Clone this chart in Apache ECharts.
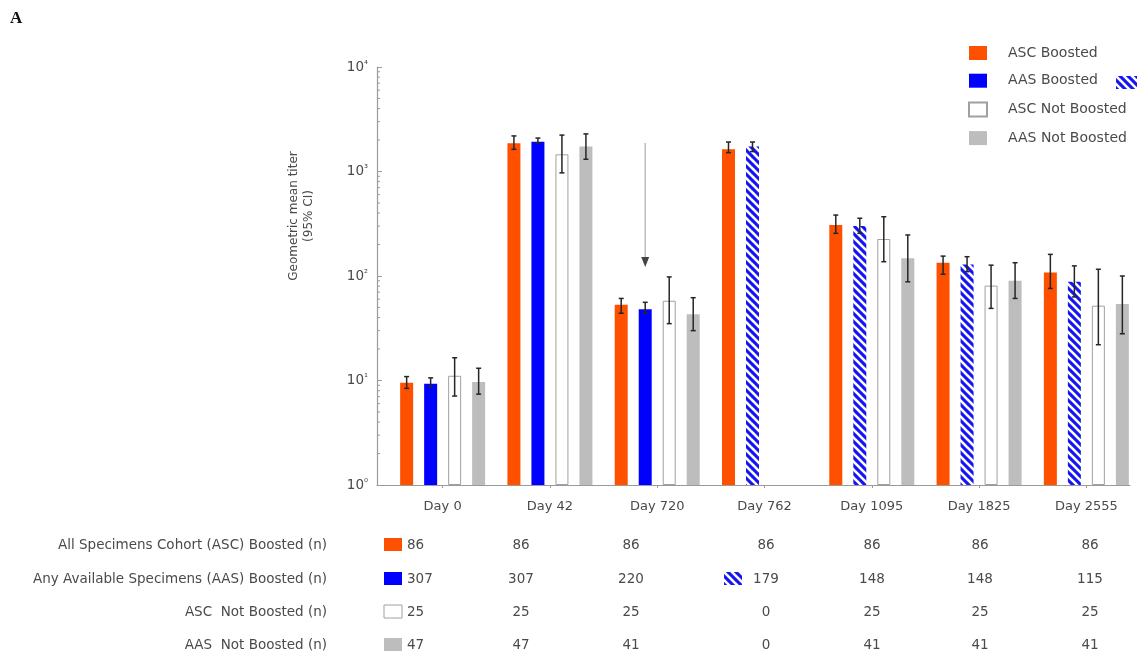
<!DOCTYPE html>
<html>
<head>
<meta charset="utf-8">
<script src="https://cdn.jsdelivr.net/npm/echarts@6/dist/echarts.min.js"></script>
<style>
html, body { margin: 0; padding: 0; background: #fff; }
#main { width: 1140px; height: 660px; }
</style>
</head>
<body>
<div id="main"></div>
<script>
// 分类与数值
const days = ['Day 0', 'Day 42', 'Day 720', 'Day 762', 'Day 1095', 'Day 1825', 'Day 2555'];
const seriesNames = ['ASC Boosted', 'AAS Boosted', 'ASC Not Boosted', 'AAS Not Boosted'];

const ascBoosted     = [9.5, 1860, 53, 1630, 308, 134, 108];
const ascBoostedLow  = [8.4, 1630, 44, 1515, 256, 104, 76];
const ascBoostedHigh = [10.9, 2190, 61, 1915, 383, 155, 161];

const aasBoosted     = [9.3, 1930, 48, 1730, 301, 129, 88];
const aasBoostedLow  = [8.7, 1875, 44, 1550, 256, 110, 63];
const aasBoostedHigh = [10.6, 2090, 56, 1915, 357, 153, 125];

const ascNot     = [11.1, 1460, 58, null, 226, 81, 52];
const ascNotLow  = [7.1, 970, 35, null, 137, 49, 22];
const ascNotHigh = [16.5, 2230, 98, null, 369, 127, 116];

const aasNot     = [9.7, 1730, 43, null, 148, 90, 54];
const aasNotLow  = [7.4, 1310, 30, null, 88, 61, 28];
const aasNotHigh = [13.1, 2290, 62, null, 247, 134, 100];

const hatchedFrom = 3; // AAS Boosted 从 Day 762 起为斜线填充

// 箭头 (Day 720)
const arrowDay = 2;
const arrowTop = 1875;
const arrowTip = 122;

// 样本数表
const tableLabels = [
    'All Specimens Cohort (ASC) Boosted (n)',
    'Any Available Specimens (AAS) Boosted (n)',
    'ASC  Not Boosted (n)',
    'AAS  Not Boosted (n)'
];
const nAscBoosted = [86, 86, 86, 86, 86, 86, 86];
const nAasBoosted = [307, 307, 220, 179, 148, 148, 115];
const nAscNot     = [25, 25, 25, 0, 25, 25, 25];
const nAasNot     = [47, 47, 41, 0, 41, 41, 41];

const yMin = 1, yMax = 10000;

// 样式
const FONT = '"DejaVu Sans", "Noto Sans", sans-serif';
const TXT = '#4a4a4a';
const AXIS = '#9a9a9a';
const colors = ['#ff5000', '#0000ff', '#ffffff', '#bdbdbd'];
const BAR_W = 13;
const BAR_GAP = 11;
const tableRowY = [545, 579, 612, 645];
const tableColX = [407, 521, 631, 766, 872, 980, 1090];

function makeHatch() {
    let c = document.createElement('canvas');
    c.width = 8; c.height = 8;
    let g = c.getContext('2d');
    g.fillStyle = '#1414f5';
    g.fillRect(0, 0, 8, 8);
    g.strokeStyle = '#ffffff';
    g.lineWidth = 2.6;
    for (let k = -8; k <= 8; k += 8) {
        g.beginPath();
        g.moveTo(k - 1, -1);
        g.lineTo(k + 9, 9);
        g.stroke();
    }
    return c;
}
const hatch = makeHatch();
const hatchFill = { image: hatch, repeat: 'repeat' };

function offsetOf(s) {
    return (s - 1.5) * (BAR_W + BAR_GAP);
}

function barData(vals, s) {
    return vals.map(function (v, i) {
        if (v == null) return '-';
        if (s === 1 && i >= hatchedFrom) {
            return { value: v, itemStyle: { color: hatchFill } };
        }
        return v;
    });
}

function errData(low, high) {
    let out = [];
    low.forEach(function (l, i) {
        if (l != null) out.push([i, l, high[i]]);
    });
    return out;
}

function errSeries(low, high, s) {
    let off = offsetOf(s);
    return {
        type: 'custom',
        name: 'err' + s,
        xAxisIndex: 0,
        yAxisIndex: 0,
        silent: true,
        z: 5,
        encode: { x: 0, y: [1, 2] },
        data: errData(low, high),
        renderItem: function (params, api) {
            let x = api.coord([api.value(0), api.value(1)])[0] + off;
            let yl = api.coord([api.value(0), api.value(1)])[1];
            let yh = api.coord([api.value(0), api.value(2)])[1];
            let st = { stroke: '#262626', lineWidth: 1.5 };
            return {
                type: 'group',
                children: [
                    { type: 'line', shape: { x1: x, y1: yh, x2: x, y2: yl }, style: st },
                    { type: 'line', shape: { x1: x - 2.5, y1: yh, x2: x + 2.5, y2: yh }, style: st },
                    { type: 'line', shape: { x1: x - 2.5, y1: yl, x2: x + 2.5, y2: yl }, style: st }
                ]
            };
        }
    };
}

// 次刻度 (对数)
let minorTicks = [];
for (let d = 1; d < yMax; d *= 10) {
    for (let m = 2; m <= 9; m++) minorTicks.push([0, m * d]);
}

const supers = ['\u2070', '\u00b9', '\u00b2', '\u00b3', '\u2074'];

// 表格
function buildTable() {
    let els = [];
    let rows = [nAscBoosted, nAasBoosted, nAscNot, nAasNot];
    tableLabels.forEach(function (t, r) {
        els.push({
            type: 'text', x: 327, y: tableRowY[r],
            style: { text: t, fill: TXT, font: '13.5px ' + FONT, textAlign: 'right', textVerticalAlign: 'middle' }
        });
        els.push({
            type: 'rect', shape: { x: 384, y: tableRowY[r] - 7, width: 18, height: 13 },
            style: { fill: colors[r], stroke: r === 2 ? '#a0a0a0' : null, lineWidth: 1 }
        });
        rows[r].forEach(function (n, c) {
            els.push({
                type: 'text', x: tableColX[c], y: tableRowY[r],
                style: {
                    text: String(n), fill: TXT, font: '13.5px ' + FONT,
                    textAlign: c === 0 ? 'left' : 'center', textVerticalAlign: 'middle'
                }
            });
        });
    });
    // 斜线样例
    els.push({
        type: 'rect', shape: { x: 724, y: tableRowY[1] - 7, width: 18, height: 13 },
        style: { fill: hatchFill }
    });
    els.push({
        type: 'rect', shape: { x: 1116, y: 76, width: 21, height: 13 },
        style: { fill: hatchFill }
    });
    // 图号
    els.push({
        type: 'text', x: 10, y: 19,
        style: { text: 'A', fill: '#111', font: 'bold 17px "Liberation Serif", "DejaVu Serif", serif', textVerticalAlign: 'middle' }
    });
    // Y 轴标题
    els.push({
        type: 'text', x: 301, y: 216, rotation: Math.PI / 2,
        style: {
            text: 'Geometric mean titer\n(95% CI)', fill: TXT, font: '12px ' + FONT,
            textAlign: 'center', textVerticalAlign: 'middle', lineHeight: 15
        }
    });
    return els;
}

let myChart = echarts.init(document.getElementById('main'));
let option = {
    backgroundColor: '#ffffff',
    animation: false,
    textStyle: { fontFamily: FONT },
    legend: {
        data: seriesNames,
        orient: 'vertical',
        left: 968,
        top: 46,
        padding: 0,
        itemWidth: 18,
        itemHeight: 14,
        itemGap: 13.7,
        icon: 'rect',
        textStyle: { color: TXT, fontSize: 14, fontFamily: FONT, padding: [0, 0, 0, 16] }
    },
    grid: [
        { left: 389, right: -1, top: 67, bottom: 175 },
        { left: 377, right: 10, top: 67, bottom: 175 }
    ],
    xAxis: [{
        type: 'category',
        gridIndex: 0,
        data: days,
        axisLine: { show: false },
        axisTick: { show: true, alignWithLabel: true, length: 3, lineStyle: { color: AXIS } },
        axisLabel: { color: TXT, fontSize: 13, fontFamily: FONT, margin: 15 }
    }, {
        type: 'value',
        gridIndex: 1,
        min: 0,
        max: 1,
        axisLine: { show: true, lineStyle: { color: AXIS, width: 1.2 } },
        axisTick: { show: false },
        axisLabel: { show: false },
        splitLine: { show: false }
    }],
    yAxis: [{
        type: 'log',
        gridIndex: 0,
        logBase: 10,
        min: yMin,
        max: yMax,
        show: false
    }, {
        type: 'log',
        gridIndex: 1,
        logBase: 10,
        min: yMin,
        max: yMax,
        axisLine: { show: true, lineStyle: { color: AXIS, width: 1.2 } },
        axisTick: { show: true, inside: true, length: 5, lineStyle: { color: AXIS } },
        splitLine: { show: false },
        axisLabel: {
            margin: 9,
            formatter: function (v) {
                let e = Math.round(Math.log10(v));
                return '{b|10}{s|' + supers[e] + '}';
            },
            rich: {
                b: { fontSize: 13.5, color: TXT, fontFamily: FONT },
                s: { fontSize: 10, color: TXT, fontFamily: FONT, padding: [0, 0, 4, 0] }
            }
        }
    }],
    series: [{
        name: seriesNames[0], type: 'bar', barWidth: BAR_W, barGap: (BAR_GAP / BAR_W * 100) + '%',
        itemStyle: { color: colors[0] }, data: barData(ascBoosted, 0)
    }, {
        name: seriesNames[1], type: 'bar', barWidth: BAR_W,
        itemStyle: { color: colors[1] }, data: barData(aasBoosted, 1)
    }, {
        name: seriesNames[2], type: 'bar', barWidth: BAR_W,
        itemStyle: { color: colors[2], borderColor: '#a0a0a0', borderWidth: 1 }, data: barData(ascNot, 2)
    }, {
        name: seriesNames[3], type: 'bar', barWidth: BAR_W,
        itemStyle: { color: colors[3] }, data: barData(aasNot, 3)
    },
        errSeries(ascBoostedLow, ascBoostedHigh, 0),
        errSeries(aasBoostedLow, aasBoostedHigh, 1),
        errSeries(ascNotLow, ascNotHigh, 2),
        errSeries(aasNotLow, aasNotHigh, 3),
    {
        // 箭头
        type: 'custom', name: 'arrow', xAxisIndex: 0, yAxisIndex: 0, silent: true, z: 6,
        encode: { x: 0, y: [1, 2] },
        data: [[arrowDay, arrowTop, arrowTip]],
        renderItem: function (params, api) {
            let x = api.coord([api.value(0), api.value(1)])[0] + offsetOf(1);
            let y1 = api.coord([api.value(0), api.value(1)])[1];
            let y2 = api.coord([api.value(0), api.value(2)])[1];
            return {
                type: 'group',
                children: [
                    { type: 'line', shape: { x1: x, y1: y1, x2: x, y2: y2 - 9 }, style: { stroke: '#bdbdbd', lineWidth: 1.5 } },
                    { type: 'polygon', shape: { points: [[x - 4, y2 - 10], [x + 4, y2 - 10], [x, y2]] }, style: { fill: '#444' } }
                ]
            };
        }
    }, {
        // 对数次刻度
        type: 'custom', name: 'minor', xAxisIndex: 1, yAxisIndex: 1, silent: true,
        data: minorTicks,
        renderItem: function (params, api) {
            let p = api.coord([api.value(0), api.value(1)]);
            return { type: 'line', shape: { x1: p[0], y1: p[1], x2: p[0] + 3, y2: p[1] }, style: { stroke: AXIS, lineWidth: 1 } };
        }
    }],
    graphic: buildTable()
};
myChart.setOption(option);
</script>
</body>
</html>
